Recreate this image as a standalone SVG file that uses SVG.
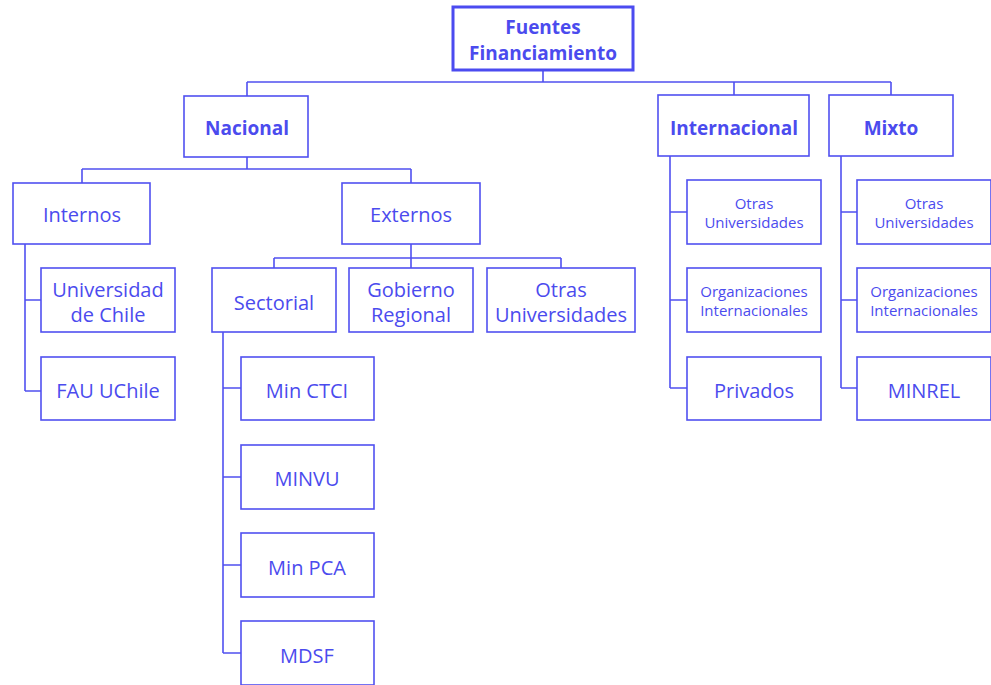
<svg xmlns="http://www.w3.org/2000/svg" width="991" height="685" viewBox="0 0 991 685">
<style>
.b{fill:#fff;stroke:#5050F0;stroke-width:1.6}
.r{fill:#fff;stroke:#4B4BF0;stroke-width:3}
.c{fill:none;stroke:#5050F0;stroke-width:1.6}
text{font-family:"Open Sans",Lato,sans-serif;fill:#4B4BEE;text-anchor:middle}
.t{font-size:20px}
.s{font-size:15px}
.k{font-size:19px;font-weight:bold}
</style>
<rect width="991" height="685" fill="#fff"/>
<g id="connectors">
<path class="c" d="M543 70V82M247 82H891M247 82V96M734 82V95M891 82V95"/>
<path class="c" d="M247 157V169M82 169H411M82 169V183M411 169V183"/>
<path class="c" d="M25 244V391M25 300H41M25 391H41"/>
<path class="c" d="M411 244V258M274 258H561M274 258V268M411 258V268M561 258V268"/>
<path class="c" d="M223 332V653M223 388H241M223 477H241M223 565H241M223 653H241"/>
<path class="c" d="M670 156V388M670 212H687M670 300H687M670 388H687"/>
<path class="c" d="M841 156V388M841 212H857M841 300H857M841 388H857"/>
</g>
<g id="root"><rect class="r" x="453" y="7" width="180" height="63"/><text class="k" x="543" y="33.5">Fuentes</text><text class="k" x="543" y="59.5">Financiamiento</text></g>
<g id="nacional"><rect class="b" x="184" y="96" width="124" height="61"/><text class="k" x="247" y="135">Nacional</text></g>
<g id="internacional"><rect class="b" x="658" y="95" width="151" height="61"/><text class="k" x="734" y="135">Internacional</text></g>
<g id="mixto"><rect class="b" x="829" y="95" width="124" height="61"/><text class="k" x="891" y="135">Mixto</text></g>
<g id="internos"><rect class="b" x="13" y="183" width="137" height="61"/><text class="t" x="82" y="222">Internos</text></g>
<g id="externos"><rect class="b" x="342" y="183" width="138" height="61"/><text class="t" x="411" y="222">Externos</text></g>
<g id="uchile"><rect class="b" x="41" y="268" width="134" height="64"/><text class="t" x="108" y="297">Universidad</text><text class="t" x="108" y="322">de Chile</text></g>
<g id="fau"><rect class="b" x="41" y="357" width="134" height="63"/><text class="t" x="108" y="398">FAU UChile</text></g>
<g id="sectorial"><rect class="b" x="212" y="268" width="124" height="64"/><text class="t" x="274" y="310">Sectorial</text></g>
<g id="gore"><rect class="b" x="349" y="268" width="124" height="64"/><text class="t" x="411" y="297">Gobierno</text><text class="t" x="411" y="322">Regional</text></g>
<g id="otras-ext"><rect class="b" x="487" y="268" width="148" height="64"/><text class="t" x="561" y="297">Otras</text><text class="t" x="561" y="322">Universidades</text></g>
<g id="ctci"><rect class="b" x="241" y="357" width="133" height="63"/><text class="t" x="307" y="398">Min CTCI</text></g>
<g id="minvu"><rect class="b" x="241" y="445" width="133" height="64"/><text class="t" x="307" y="486">MINVU</text></g>
<g id="pca"><rect class="b" x="241" y="533" width="133" height="64"/><text class="t" x="307" y="575">Min PCA</text></g>
<g id="mdsf"><rect class="b" x="241" y="621" width="133" height="64"/><text class="t" x="307" y="663">MDSF</text></g>
<g id="int-otras"><rect class="b" x="687" y="180" width="134" height="64"/><text class="s" x="754" y="208.5">Otras</text><text class="s" x="754" y="227.5">Universidades</text></g>
<g id="int-org"><rect class="b" x="687" y="268" width="134" height="64"/><text class="s" x="754" y="296.5">Organizaciones</text><text class="s" x="754" y="315.5">Internacionales</text></g>
<g id="privados"><rect class="b" x="687" y="357" width="134" height="63"/><text class="t" x="754" y="398">Privados</text></g>
<g id="mix-otras"><rect class="b" x="857" y="180" width="134" height="64"/><text class="s" x="924" y="208.5">Otras</text><text class="s" x="924" y="227.5">Universidades</text></g>
<g id="mix-org"><rect class="b" x="857" y="268" width="134" height="64"/><text class="s" x="924" y="296.5">Organizaciones</text><text class="s" x="924" y="315.5">Internacionales</text></g>
<g id="minrel"><rect class="b" x="857" y="357" width="134" height="63"/><text class="t" x="924" y="398">MINREL</text></g>
</svg>
